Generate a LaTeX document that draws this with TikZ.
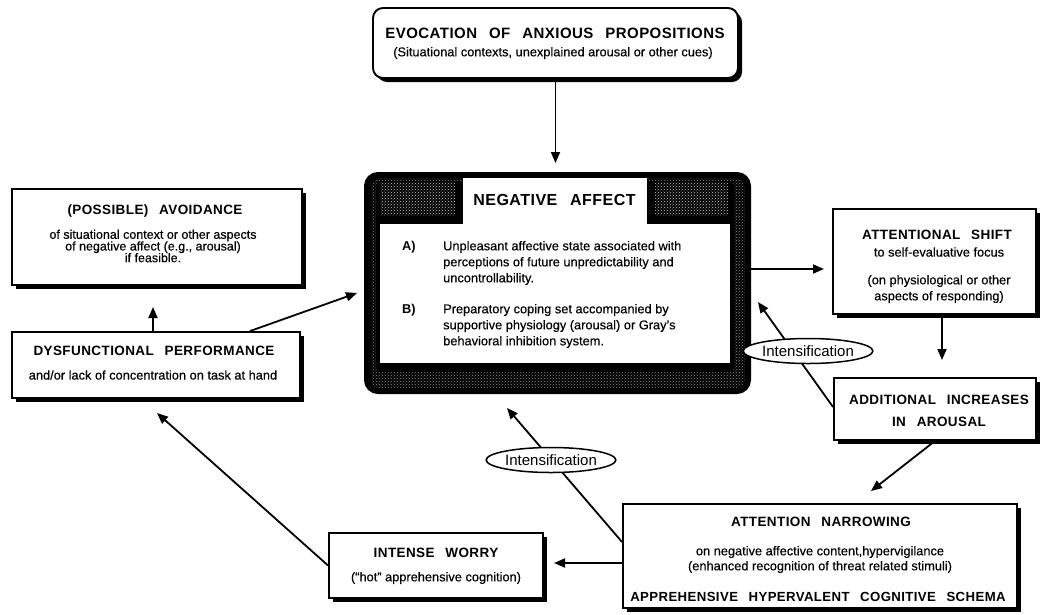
\documentclass[tikz,border=0pt]{standalone}
\usepackage{fontspec}
\setmainfont{Liberation Sans}
\newfontfamily\ttlfont[LetterSpace=3,Ligatures=TeX]{Liberation Sans}
\newfontfamily\bodyfont[FakeBold=0.4,Ligatures=TeX]{Liberation Sans}
\usetikzlibrary{arrows.meta,shadows,shapes.geometric,patterns}
\newcommand{\wg}{\hspace{0.8em}}
\begin{document}
\begin{tikzpicture}[x=1pt,y=-1pt,
  box/.style={draw=black,line width=1.9pt,fill=white,inner sep=0pt,
    drop shadow={shadow xshift=4pt,shadow yshift=-4pt,fill=black,opacity=1}},
  ttl/.style={font=\ttlfont\bfseries\fontsize{13.5}{16}\selectfont,inner sep=0pt},
  txt/.style={font=\bodyfont\fontsize{12.8}{16}\selectfont,inner sep=0pt,align=center},
  arr/.style={line width=1.8pt,-{Triangle[length=11pt,width=9pt]}},
  lbl/.style={draw,ellipse,line width=1.5pt,fill=white,minimum width=118pt,
    minimum height=25pt,inner sep=0pt,font=\fontsize{15}{17}\selectfont}
]
\useasboundingbox (0,0) rectangle (1042,614);
\fill[white] (0,0) rectangle (1042,614);

% ---------- boxes ----------
\node[box,rounded corners=10pt,minimum width=365pt,minimum height=70pt] (evoc) at (555.5,43) {};
\node[ttl,font=\ttlfont\bfseries\fontsize{15}{17}\selectfont] (evoct) at (555,33) {EVOCATION\wg OF\wg ANXIOUS\wg PROPOSITIONS};
\node[txt] (evocs) at (553,53) {(Situational contexts, unexplained arousal or other cues)};

% negative affect
\node[draw=black,line width=2pt,fill=black,rounded corners=13pt,minimum width=385pt,minimum height=220pt,inner sep=0pt] (na) at (557.5,283) {};
\fill[pattern=crosshatch dots,pattern color=black!45,rounded corners=9pt] (371,178) rectangle (745,388);
\fill[black,rounded corners=4pt] (376,181) rectangle (734,372);
\fill[pattern=crosshatch dots,pattern color=black!22] (380,182) rectangle (455,215);
\fill[pattern=crosshatch dots,pattern color=black!22] (655,182) rectangle (728,215);
\filldraw[fill=white,draw=black,line width=1pt] (379,223) -- (462,223) -- (462,177) -- (647,177) -- (647,223) -- (730,223) -- (730,363) -- (379,363) -- cycle;
\node[ttl,font=\ttlfont\bfseries\fontsize{16}{18}\selectfont] (nat) at (554.5,200) {NEGATIVE\wg AFFECT};
\node[txt,font=\bfseries\fontsize{12.8}{16}\selectfont,anchor=west] (naA) at (402,247) {A)};
\node[txt,align=left,anchor=west] (naAt) at (443,263) {Unpleasant affective state associated with\\perceptions of future unpredictability and\\uncontrollability.};
\node[txt,font=\bfseries\fontsize{12.8}{16}\selectfont,anchor=west] (naB) at (402,310) {B)};
\node[txt,align=left,anchor=west] (naBt) at (443,326) {Preparatory coping set accompanied by\\supportive physiology (arousal) or Gray's\\behavioral inhibition system.};

% avoidance
\node[box,minimum width=290pt,minimum height=96pt] (avoid) at (157,237) {};
\node[ttl] (avoidt) at (155,211) {(POSSIBLE)\wg AVOIDANCE};
\node[txt,font=\bodyfont\fontsize{12.5}{11.7}\selectfont] (avoids) at (153,246) {of situational context or other aspects\\of negative affect (e.g., arousal)\\if feasible.};

% dysfunctional
\node[box,minimum width=288pt,minimum height=66pt] (dys) at (156,365) {};
\node[ttl] (dyst) at (154,351) {DYSFUNCTIONAL\wg PERFORMANCE};
\node[txt] (dyss) at (153,375) {and/or lack of concentration on task at hand};

% attentional shift
\node[box,minimum width=203pt,minimum height=105pt] (shift) at (934.5,261.5) {};
\node[ttl] (shiftt) at (937,235) {ATTENTIONAL\wg SHIFT};
\node[txt] (shifts) at (939,252) {to self-evaluative focus};
\node[txt] (shiftb) at (939,289) {(on physiological or other\\aspects of responding)};

% additional increases
\node[box,minimum width=202pt,minimum height=62pt] (addl) at (935,409) {};
\node[ttl] (addlt) at (939,400) {ADDITIONAL\wg INCREASES};
\node[ttl] (addlb) at (939,422) {IN\wg AROUSAL};

% attention narrowing
\node[box,minimum width=394pt,minimum height=104pt] (narrow) at (820,556) {};
\node[ttl] (narrowt) at (821,522) {ATTENTION\wg NARROWING};
\node[txt,font=\bodyfont\fontsize{12.8}{15}\selectfont] (narrows) at (820,559.5) {on negative affective content,hypervigilance\\(enhanced recognition of threat related stimuli)};
\node[ttl,font=\ttlfont\bfseries\fontsize{13.2}{16}\selectfont] (narrowb) at (818,597) {APPREHENSIVE\wg HYPERVALENT\wg COGNITIVE\wg SCHEMA};

% intense worry
\node[box,minimum width=214pt,minimum height=65pt] (worry) at (436,565.5) {};
\node[ttl] (worryt) at (436,553) {INTENSE\wg WORRY};
\node[txt] (worrys) at (436,578) {(“hot” apprehensive cognition)};

% ---------- connectors ----------
\coordinate (t1) at (555.5,163);
\coordinate (t2) at (824,269);
\coordinate (t3) at (942,360);
\coordinate (t4) at (758,302);
\coordinate (t5) at (871,491);
\coordinate (t6) at (507,408);
\coordinate (t7) at (554,563);
\coordinate (t8) at (157,413);
\coordinate (t9) at (357,293);
\coordinate (t10) at (153,307);

\draw[arr] (evoc.south) -- (t1);
\draw[arr] (na.east |- t2) -- (t2);
\draw[arr] (shift.south -| t3) -- (t3);
\draw[arr] (addl.west |- 834,407) -- (t4);
\draw[arr] (addl.south) -- (t5);
\draw[arr] (narrow.west |- 623,542) -- (t6);
\draw[arr] (narrow.west |- t7) -- (t7);
\draw[arr] (worry.west) -- (t8);
\draw[arr] (dys.north -| 250,0) -- (t9);
\draw[arr] (dys.north -| t10) -- (t10);

\node[lbl] (int1) at (808,351) {Intensification};
\node[lbl] (int2) at (551,460) {Intensification};
\end{tikzpicture}
\end{document}
